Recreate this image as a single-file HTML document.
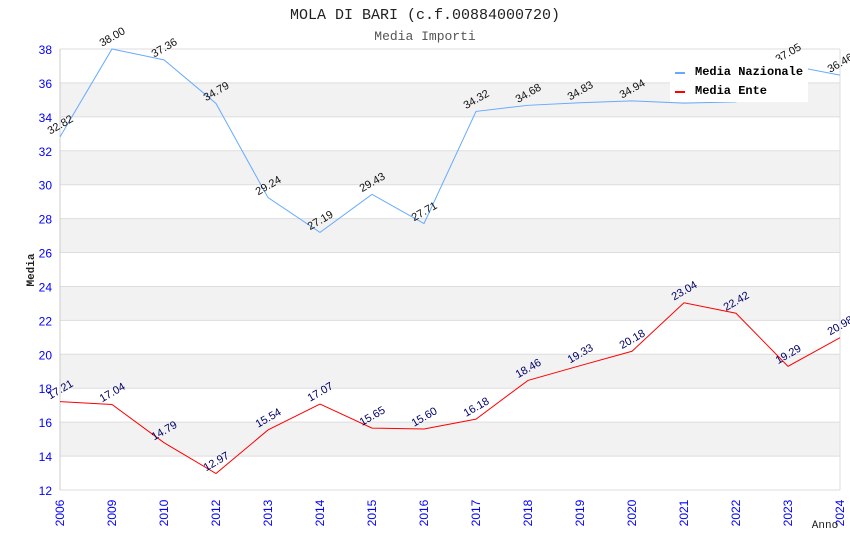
<!DOCTYPE html>
<html><head><meta charset="utf-8"><style>
body{margin:0;background:#fff;}
svg{display:block;font-family:"Liberation Sans",sans-serif;}
.mono{font-family:"Liberation Mono","DejaVu Sans Mono",monospace;}
</style></head><body>
<svg id="chart" width="850" height="550">
<text class="mono" x="425" y="19" text-anchor="middle" font-size="15" fill="#222">MOLA DI BARI (c.f.00884000720)</text>
<text class="mono" x="425" y="40" text-anchor="middle" font-size="13" fill="#555">Media Importi</text>
<g id="grid"></g>
<g id="series"></g>
<g id="labels"></g>
<text class="mono" x="34" y="270" text-anchor="middle" font-size="11" font-weight="bold" fill="#222" transform="rotate(-90 34 270)">Media</text>
<text class="mono" x="825" y="528" text-anchor="middle" font-size="11" fill="#222">Anno</text>
<g>
<rect x="670" y="60" width="138" height="42" fill="#fff"/>
<rect x="675" y="72" width="10" height="2" fill="#6af"/>
<text class="mono" x="695" y="75" font-size="12" font-weight="bold" fill="#000">Media Nazionale</text>
<rect x="675" y="91" width="10" height="2" fill="#f00"/>
<text class="mono" x="695" y="94" font-size="12" font-weight="bold" fill="#000">Media Ente</text>
</g>
</svg>
<script>
const years=["2006","2009","2010","2012","2013","2014","2015","2016","2017","2018","2019","2020","2021","2022","2023","2024"];
const nazionale=[32.82,38.00,37.36,34.79,29.24,27.19,29.43,27.71,34.32,34.68,34.83,34.94,34.81,34.88,37.05,36.46];
const ente=[17.21,17.04,14.79,12.97,15.54,17.07,15.65,15.60,16.18,18.46,19.33,20.18,23.04,22.42,19.29,20.98];
const yTicks=[12,14,16,18,20,22,24,26,28,30,32,34,36,38];
const NS="http://www.w3.org/2000/svg";
const X0=60,X1=840,Y0=490,Y1=49,YMIN=12,YMAX=38;
function xs(i){return X0+i*(X1-X0)/(years.length-1);}
function ys(v){return Y0-(v-YMIN)*(Y0-Y1)/(YMAX-YMIN);}
function mk(tag,attrs,parent){const e=document.createElementNS(NS,tag);for(const k in attrs)e.setAttribute(k,attrs[k]);parent.appendChild(e);return e;}
const grid=document.getElementById('grid');
for(let i=0;i<yTicks.length-1;i++){
  if(i%2===1){const b=mk('rect',{x:X0,y:ys(yTicks[i+1]),width:X1-X0,height:ys(yTicks[i])-ys(yTicks[i+1]),fill:'#f2f2f2'},grid);
  
  }
}
yTicks.forEach(t=>{
  const l=mk('line',{x1:X0,x2:X1,y1:ys(t),y2:ys(t),stroke:'#ddd'},grid);
  
  
  const tx=mk('text',{x:52,y:ys(t)+5,'text-anchor':'end','font-size':12,fill:'#00f'},grid);
  tx.textContent=t;
  
  
});
mk('line',{x1:X0,x2:X0,y1:Y1,y2:Y0,stroke:'#ccc'},grid);
mk('line',{x1:X1,x2:X1,y1:Y1,y2:Y0,stroke:'#ddd'},grid);
years.forEach((y,i)=>{
  const x=xs(i)+4;
  const tx=mk('text',{x:x,y:513,'text-anchor':'middle','font-size':12,fill:'#00f',transform:`rotate(-90 ${x} 513)`},grid);
  tx.textContent=y;
  
  
});
const series=document.getElementById('series'),labels=document.getElementById('labels');
function draw(data,color,lc,name){
  const p=mk('polyline',{points:data.map((v,i)=>xs(i)+','+ys(v)).join(' '),fill:'none',stroke:color,'stroke-width':1},series);
  
  
  data.forEach((v,i)=>{
    const x=xs(i)+2,y=ys(v)-9;
    const t=mk('text',{x:x,y:y,'text-anchor':'middle','font-size':11,fill:lc,transform:`rotate(-30 ${x} ${y})`},labels);
    t.textContent=v.toFixed(2);
    
    
  });
}
draw(nazionale,'#6af','#111','nazionale');
draw(ente,'#f00','#006','ente');
</script>
</body></html>
